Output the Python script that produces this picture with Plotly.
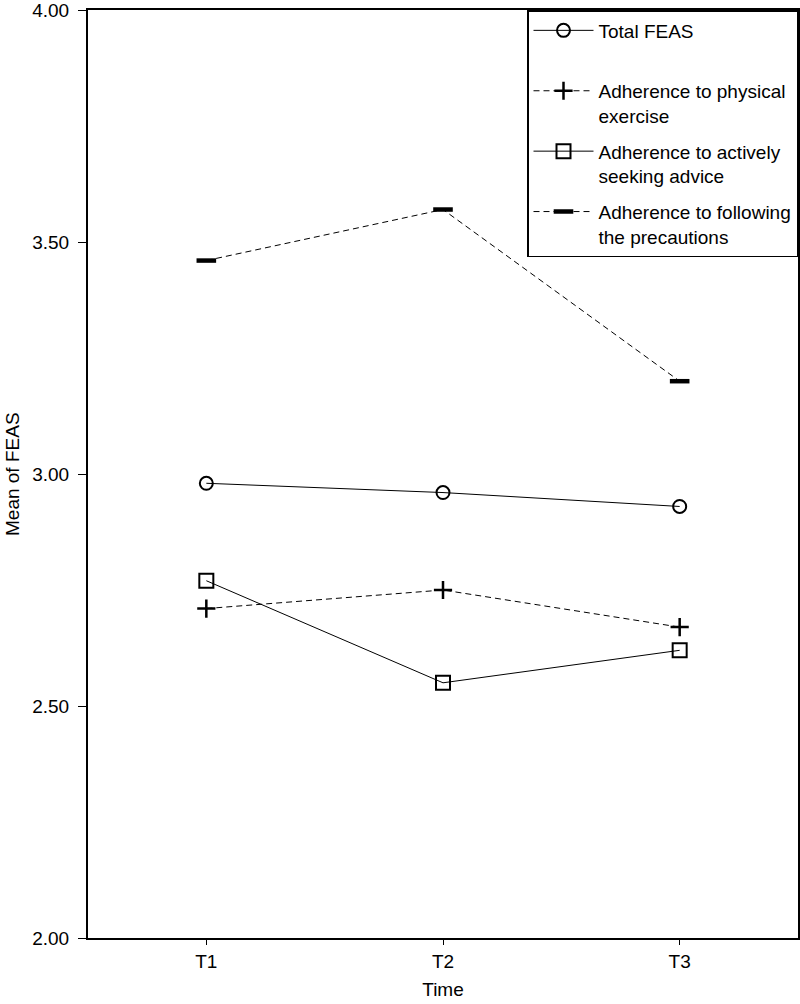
import plotly.graph_objects as go

# time points and mean FEAS scores
times = ["T1", "T2", "T3"]
total_feas = [2.98, 2.96, 2.93]
physical_exercise = [2.71, 2.75, 2.67]
seeking_advice = [2.77, 2.55, 2.62]
precautions = [3.46, 3.57, 3.20]
y_ticks = [2, 2.5, 3, 3.5, 4]
y_labels = ["2.00", "2.50", "3.00", "3.50", "4.00"]

series = [
    ("Total FEAS<br> ", total_feas, "solid", "circle-open", 13, 2),
    ("Adherence to physical<br>exercise", physical_exercise, "dash", "cross-thin-open", 13, 2.5),
    ("Adherence to actively<br>seeking advice", seeking_advice, "solid", "square-open", 14, 2),
    ("Adherence to following<br>the precautions", precautions, "dash", "line-ew-open", 14, 4.5),
]

fig = go.Figure()
for name, vals, dash, symbol, size, lw in series:
    fig.add_trace(go.Scatter(
        x=[1, 2, 3], y=vals, mode="lines+markers", name=name, legendgroup=name,
        line=dict(color="black", width=1, dash=dash if dash == "solid" else "6px,4px"),
        marker=dict(symbol=symbol, size=size, color="black",
                    line=dict(color="black", width=lw)),
    ))

fig.update_layout(
    width=800, height=1004,
    margin=dict(l=88, r=2, t=10, b=66),
    plot_bgcolor="white", paper_bgcolor="white",
    font=dict(family="Liberation Sans, Arial", size=19, color="black"),
    showlegend=True,
    legend=dict(x=1, xanchor="right", y=1, yanchor="top", valign="top",
                bordercolor="black", borderwidth=1.5, bgcolor="white",
                tracegroupgap=8, font=dict(size=19),
                itemwidth=60),
    xaxis=dict(range=[0.5, 3.5], tickvals=[1, 2, 3], ticktext=times,
               showgrid=False, zeroline=False, showline=True, linecolor="black",
               linewidth=1.5, mirror=True, ticks="outside", ticklen=5,
               tickcolor="black", tickfont=dict(size=19), automargin=False,
               title=dict(text="Time", standoff=12, font=dict(size=19))),
    yaxis=dict(range=[2, 4], tickvals=y_ticks,
               ticktext=[t + "\u00a0" for t in y_labels],
               showgrid=False, zeroline=False, showline=True, linecolor="black",
               linewidth=1.5, mirror=True, ticks="outside", ticklen=8,
               tickcolor="black", tickfont=dict(size=19), automargin=False,
               ticklabeloverflow="allow"),
)

# y title as an annotation so it can sit close to the page edge
fig.add_annotation(text="Mean of FEAS", textangle=-90, showarrow=False,
                   xref="paper", yref="paper", x=-76 / 710, y=0.5,
                   xanchor="center", yanchor="middle", font=dict(size=19))

fig.write_html("out.html", config={"displayModeBar": False},
               post_script="document.body.style.margin='0';")
